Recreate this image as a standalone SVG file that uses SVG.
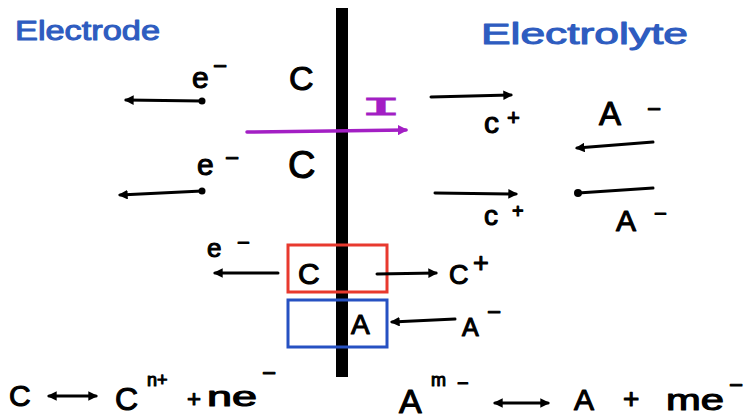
<svg xmlns="http://www.w3.org/2000/svg" width="746" height="419" viewBox="0 0 746 419">
<style>
.t{font-family:"Liberation Sans","DejaVu Sans",sans-serif;fill:#000;stroke:#000;stroke-width:1.1;stroke-linejoin:round}
.blue{font-family:"Liberation Sans","DejaVu Sans",sans-serif;fill:#2e5cc0;stroke:#2e5cc0;stroke-width:1;stroke-linejoin:round}
.ln{stroke:#000;stroke-width:3;fill:none;stroke-linecap:round}
.dot{fill:#000}
</style>
<defs>
<marker id="ah" viewBox="0 0 10 10" refX="8" refY="5" markerWidth="3.2" markerHeight="3.2" orient="auto-start-reverse">
<path d="M0,0 L10,5 L0,10 z" fill="#000"/>
</marker>
<marker id="ahm" viewBox="0 0 10 10" refX="8" refY="5" markerWidth="3" markerHeight="3" orient="auto">
<path d="M0,0 L10,5 L0,10 z" fill="#a31fc4"/>
</marker>
</defs>
<rect width="746" height="419" fill="#fff"/>

<g id="titles">
<text class="blue" x="15" y="40" font-size="27" textLength="145" lengthAdjust="spacingAndGlyphs">Electrode</text>
<text class="blue" x="481" y="44" font-size="29" textLength="207" lengthAdjust="spacingAndGlyphs">Electrolyte</text>
</g>

<g id="interface">
<rect x="336" y="8" width="12" height="369" fill="#000"/>
</g>

<g id="boxes">
<rect id="box-c" x="288" y="245" width="99" height="47" fill="none" stroke="#e8392e" stroke-width="3"/>
<rect id="box-a" x="288" y="300" width="99" height="47" fill="none" stroke="#2651c2" stroke-width="3"/>
</g>

<g id="connectors">
<line class="ln" x1="202" y1="101" x2="126" y2="100" marker-end="url(#ah)"/>
<circle class="dot" cx="202" cy="101" r="3.5"/>
<line class="ln" x1="202" y1="191" x2="120" y2="195" marker-end="url(#ah)"/>
<circle class="dot" cx="202" cy="191" r="3.5"/>
<line x1="247" y1="132" x2="406" y2="130" stroke="#a31fc4" stroke-width="3.5" stroke-linecap="round" marker-end="url(#ahm)"/>
<line class="ln" x1="431" y1="97" x2="511" y2="95" marker-end="url(#ah)"/>
<line class="ln" x1="653" y1="142" x2="577" y2="148" marker-end="url(#ah)"/>
<line class="ln" x1="435" y1="193" x2="516" y2="194" marker-end="url(#ah)"/>
<line class="ln" x1="653" y1="188" x2="578" y2="193"/>
<circle class="dot" cx="578" cy="193" r="4"/>
<line class="ln" x1="278" y1="273" x2="215" y2="273" marker-end="url(#ah)"/>
<line class="ln" x1="377" y1="274" x2="436" y2="273" marker-end="url(#ah)"/>
<line class="ln" x1="455" y1="319" x2="392" y2="322" marker-end="url(#ah)"/>
<line class="ln" x1="49" y1="396" x2="96" y2="396" marker-start="url(#ah)" marker-end="url(#ah)"/>
<line class="ln" x1="495" y1="403" x2="548" y2="403" marker-start="url(#ah)" marker-end="url(#ah)"/>
</g>

<g id="electrode-row1">
<text class="t" x="192" y="88" font-size="30">e</text>
<text class="t" x="213" y="74" font-size="24">−</text>
<text class="t" x="289" y="90" font-size="34">C</text>
</g>
<g id="electrode-row2">
<text class="t" x="197" y="175" font-size="30">e</text>
<text class="t" x="225" y="166" font-size="24">−</text>
<text class="t" x="288" y="178" font-size="38">C</text>
</g>
<g id="current">
<text x="361" y="115" font-family="'Liberation Mono','DejaVu Sans Mono',monospace" font-size="26" fill="#a31fc4" stroke="#a31fc4" stroke-width="1.2" textLength="40" lengthAdjust="spacingAndGlyphs">I</text>
</g>
<g id="electrolyte-row1">
<text class="t" x="484" y="133" font-size="30">c</text>
<text class="t" x="507" y="125" font-size="22">+</text>
<text class="t" x="599" y="125" font-size="33">A</text>
<text class="t" x="647" y="117" font-size="24">−</text>
</g>
<g id="electrolyte-row2">
<text class="t" x="484" y="225" font-size="28">c</text>
<text class="t" x="512" y="218" font-size="20">+</text>
<text class="t" x="616" y="231" font-size="30">A</text>
<text class="t" x="654" y="221" font-size="22">−</text>
</g>
<g id="reaction-c">
<text class="t" x="207" y="257" font-size="26">e</text>
<text class="t" x="237" y="250" font-size="22">−</text>
<text class="t" x="298" y="284" font-size="30">C</text>
<text class="t" x="449" y="284" font-size="27">C</text>
<text class="t" x="473" y="272" font-size="27">+</text>
</g>
<g id="reaction-a">
<text class="t" x="351" y="334" font-size="28">A</text>
<text class="t" x="462" y="336" font-size="25">A</text>
<text class="t" x="487" y="320" font-size="24">−</text>
</g>
<g id="equation-c">
<text class="t" x="9" y="406" font-size="30">C</text>
<text class="t" x="115" y="410" font-size="32">C</text>
<text class="t" x="147" y="386" font-size="18">n+</text>
<text class="t" x="187" y="407" font-size="24">+</text>
<text class="t" x="207" y="406" font-size="28" textLength="50" lengthAdjust="spacingAndGlyphs">ne</text>
<text class="t" x="262" y="381" font-size="24">−</text>
</g>
<g id="equation-a">
<text class="t" x="399" y="413" font-size="34">A</text>
<text class="t" x="431" y="386" font-size="18">m</text>
<text class="t" x="457" y="390" font-size="20">−</text>
<text class="t" x="574" y="410" font-size="30">A</text>
<text class="t" x="623" y="408" font-size="28">+</text>
<text class="t" x="666" y="410" font-size="30" textLength="58" lengthAdjust="spacingAndGlyphs">me</text>
<text class="t" x="729" y="393" font-size="24">−</text>
</g>
</svg>
